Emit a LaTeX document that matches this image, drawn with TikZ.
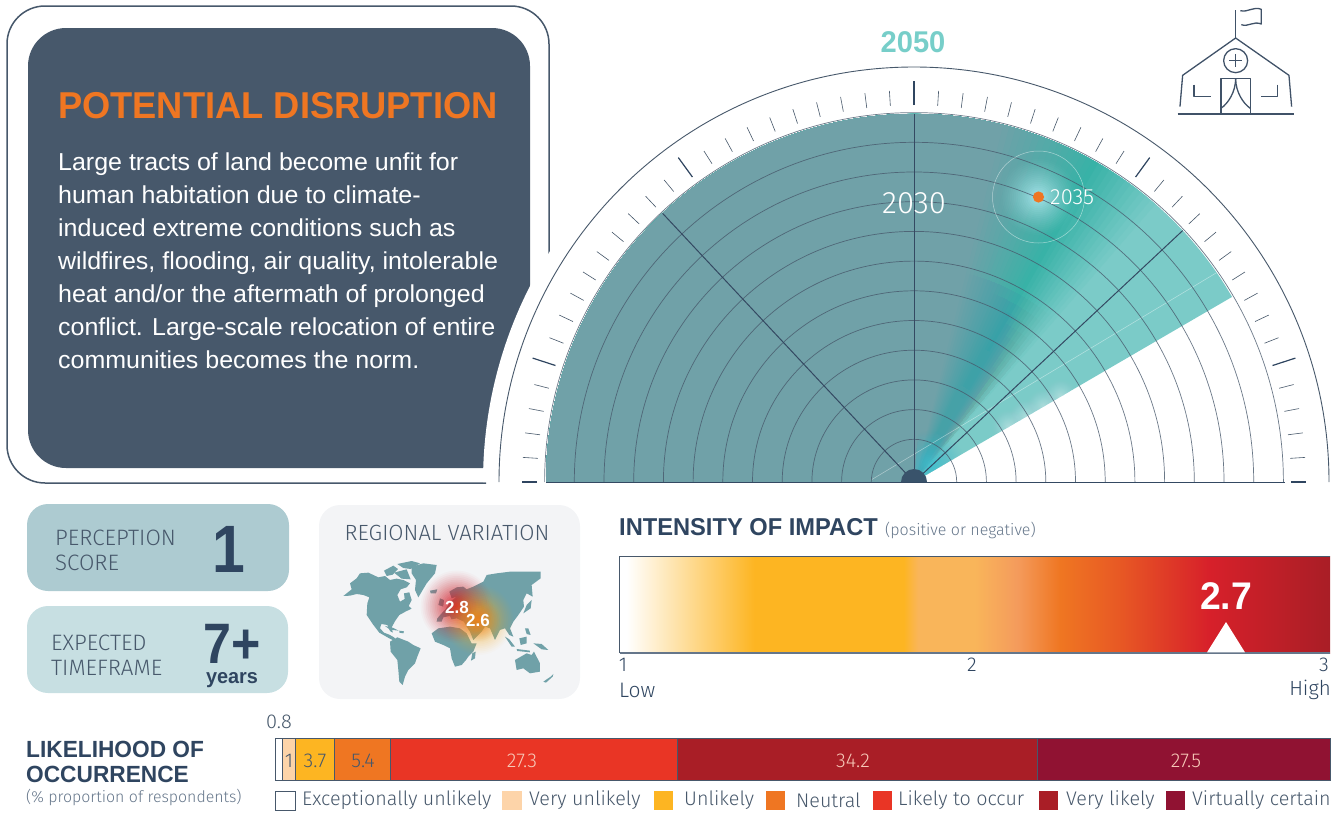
\documentclass[tikz,border=0pt]{standalone}
\usepackage{fontspec}
\setmainfont[FakeStretch=1.02]{Liberation Sans}
\newfontfamily\boldf[FakeStretch=0.97]{Liberation Sans Bold}
\newfontfamily\boldn[FakeStretch=0.88]{Liberation Sans Bold}
\newfontfamily\lightf{Fira Sans Light}
\usetikzlibrary{shadings}
\definecolor{slate}{HTML}{47586B}
\definecolor{navy}{HTML}{2F4560}
\definecolor{grayt}{HTML}{65768A}
\definecolor{orng}{HTML}{EF7622}
\definecolor{tealA}{HTML}{70A1A8}
\definecolor{tealB}{HTML}{38B2A7}
\definecolor{tealC}{HTML}{7BCBC8}
\definecolor{tealT}{HTML}{77CEC9}
\definecolor{boxa}{HTML}{ADCBD1}
\definecolor{boxb}{HTML}{C7DFE2}
\definecolor{boxc}{HTML}{F3F4F6}
\definecolor{pch}{HTML}{FDD4A9}
\definecolor{yel}{HTML}{FDB522}
\definecolor{redd}{HTML}{E93525}
\definecolor{dred}{HTML}{A91E26}
\definecolor{maro}{HTML}{901232}
\definecolor{lbl}{HTML}{F7C9B8}
\definecolor{heatA}{HTML}{F9B55A}
\definecolor{heatB}{HTML}{F49B5C}
\definecolor{heatC}{HTML}{E85A24}
\definecolor{heatD}{HTML}{D7202A}
\definecolor{cglow}{HTML}{3FC0D2}
\definecolor{dglow}{HTML}{A8E6EC}
\definecolor{eglow}{HTML}{DDF3F8}
\newcommand\szt[2]{\fontsize{#1}{#2}\selectfont}
% soft spot: stacked circles whose summed opacity eases from the rim to the centre
\newcommand\softspot[4]{%
 \foreach \gn in {1,...,20}{%
  \pgfmathsetmacro\grr{#2*(21-\gn)/20}%
  \pgfmathsetmacro\gop{1-(1-#4*(\gn/20)^1.2)/(1-#4*((\gn-1)/20)^1.2)}%
  \fill[#3,opacity=\gop] #1 circle (\grr);
 }}
\pgfdeclarehorizontalshading{heat}{100bp}{
 color(0bp)=(white);
 color(25.5bp)=(white);
 color(34.5bp)=(yel);
 color(45bp)=(yel);
 color(46bp)=(heatA);
 color(50bp)=(heatA);
 color(53bp)=(heatB);
 color(56bp)=(orng);
 color(60bp)=(heatC);
 color(66.5bp)=(heatD);
 color(75bp)=(dred);
 color(100bp)=(dred)}
\tikzset{
 lab/.style={inner sep=0pt,text=slate,font=\lightf\szt{19.7}{24}},
 hdr/.style={inner sep=0pt,text=navy,font=\boldf\szt{23.4}{25}},
 seg/.style={draw=slate,line width=.7pt},
 seglab/.style={inner sep=0pt,font=\lightf\szt{20}{24}},
 ring/.style={draw=slate,line width=.7pt,draw opacity=.8},
 spoke/.style={draw=navy!80!slate,line width=1pt},
 tick/.style={draw=slate,line width=.6pt},
 bigtick/.style={draw=navy,line width=1.2pt},
 icon/.style={draw=slate!70!navy,line width=1.3pt,line join=round},
 land/.style={fill=tealA,draw=none},
 card/.style={rounded corners=21pt,draw=none}
}
\begin{document}
\begin{tikzpicture}[x=1pt,y=-1pt]
\useasboundingbox (0,0) rectangle (1338,814);
% text panel
\draw[draw=slate,line width=1.5pt,rounded corners=38pt] (549,263) -- (549,6) -- (7,6) -- (7,483) -- (486,483);
\fill[slate,rounded corners=38pt] (28,28) rectangle (530,468);
\node[inner sep=0pt,anchor=base west,text=orng,font=\boldf\szt{37.4}{40}] (title) at (58,118) {POTENTIAL DISRUPTION};
\node[inner sep=0pt,anchor=north west,align=left,text=white,font=\szt{24.5}{33}] (body) at (58,152.5) {Large tracts of land become unfit for\\human habitation due to climate-\\induced extreme conditions such as\\wildfires, flooding, air quality, intolerable\\heat and/or the aftermath of prolonged\\conflict. Large-scale relocation of entire\\communities becomes the norm.};
% gauge
\begin{scope}[shift={(914,482)},y=1pt]
 \fill[white] (180:431) arc[start angle=180,end angle=0,radius=431] -- cycle;
 \fill[tealC] (0,0) -- (30.2:368) arc[start angle=30.2,end angle=180,radius=368] -- cycle;
 \foreach \a in {48,49,...,60}{
  \pgfmathsetmacro\p{(\a-48)/12*100}
  \fill[tealB!\p!tealC] (0,0) -- (\a:368) arc[start angle=\a,end angle=180,radius=368] -- cycle;
 }
 \foreach \a in {61,62,...,76}{
  \pgfmathsetmacro\p{(\a-60)/16*100}
  \fill[tealA!\p!tealB] (0,0) -- (\a:368) arc[start angle=\a,end angle=180,radius=368] -- cycle;
 }
 \foreach \a in {50,52,...,66}{
  \begin{scope}
   \clip (0,0) -- (\a:215) arc[start angle=\a,end angle=85,radius=215] -- cycle;
   \softspot{(0,0)}{215}{tealA}{.35}
  \end{scope}
 }
 % glows inside the sector
 \begin{scope}
  \clip (0,0) -- (30.2:368) arc[start angle=30.2,end angle=85,radius=368] -- cycle;
  \softspot{(46:24)}{34}{cglow}{.85}
  \foreach \r in {110,130,150,170}{
   \softspot{(30.2:\r)}{17}{eglow}{.55}
  }
 \end{scope}
 \draw[white,opacity=.45,line width=.5pt] (-43,2) -- (302,209);
 % dot glow
 \softspot{(124.5,285)}{38}{dglow}{.95}
 % rings
 \foreach \k in {0,...,11}{
  \pgfmathsetmacro\r{42.7+29.7*\k}
  \draw[ring] (\r,0) arc[start angle=0,end angle=180,radius=\r];
 }
 \draw[navy!80!slate,line width=1pt] (-368,0) -- (371,0);
 \foreach \a in {43.1,90,133.1}{
  \draw[spoke] (0,0) -- (\a:368);
 }
 \fill[navy!85!tealA] (-13,0) arc[start angle=180,end angle=0,radius=13] -- cycle;
 \draw[white,opacity=.5,line width=.5pt] (124.5,285) circle (46);
 \draw[slate,line width=.9pt] (415,0) arc[start angle=0,end angle=180,radius=415];
 \foreach \i in {0,...,50}{
  \pgfmathtruncatemacro\m{mod(\i,10)}
  \pgfmathsetmacro\ang{\i*3.6}
  \ifnum\m=5
   \draw[bigtick] (\ang:377) -- (\ang:401);
  \else
   \ifnum\m=0
    \ifnum\i=0 \draw[bigtick] (\ang:377) -- (\ang:392);
    \else\ifnum\i=50 \draw[bigtick] (\ang:377) -- (\ang:392);
    \else \draw[tick] (\ang:377) -- (\ang:392); \fi\fi
   \else
    \draw[tick] (\ang:377) -- (\ang:392);
   \fi
  \fi
 }
 \coordinate (dotc) at (124.5,285);
\end{scope}
\fill[orng] (dotc) circle (5.6);
\node[inner sep=0pt,anchor=west,text=white,font=\lightf\szt{22}{24}] (y2035) at (1050,197) {2035};
\node[inner sep=0pt,text=white,font=\lightf\szt{31}{34}] (y2030) at (914,203) {2030};
\node[inner sep=0pt,text=tealT,font=\boldf\szt{30}{32}] (y2050) at (913,42) {2050};
% icon
\begin{scope}[shift={(900,0)},x=.3333pt,y=-.3333pt,icon]
 \draw (833,342) -- (1181,342);
 \draw (840,320) -- (848,226) -- (1007,114) -- (1167,226) -- (1175,320);
 \draw (1007,114) -- (1007,30);
 \draw (1021,32) .. controls (1045,38) and (1060,18) .. (1084,28) -- (1084,72) .. controls (1060,62) and (1045,82) .. (1024,74);
 \draw (1007,182) circle (36);
 \draw (1007,162) -- (1007,202) (987,182) -- (1027,182);
 \draw (963,342) -- (963,236) -- (1051,236) -- (1051,342);
 \draw (1007,236) .. controls (1007,275) and (985,310) .. (963,325);
 \draw (1007,236) .. controls (1007,275) and (1029,310) .. (1051,325);
 \draw (882,254) -- (882,290) -- (932,290);
 \draw (1133,254) -- (1133,290) -- (1082,290);
\end{scope}
% score cards
\fill[boxa,card] (27,504) rectangle (289,591);
\fill[boxb,card] (27,606) rectangle (288,693);
\fill[boxc,card] (319,505) rectangle (580,699);
\node[lab,anchor=north west,align=left,font=\lightf\szt{22.3}{25}] (perc) at (55,530) {PERCEPTION\\SCORE};
\node[lab,anchor=north west,align=left,font=\lightf\szt{22.3}{25}] (exp) at (51,635) {EXPECTED\\TIMEFRAME};
\node[inner sep=0pt,anchor=base,text=navy,font=\boldn\szt{67}{68}] (one) at (229,572) {1};
\node[inner sep=0pt,anchor=base,text=navy,font=\boldn\szt{57}{58}] (seven) at (232,663) {7+};
\node[inner sep=0pt,anchor=base,text=navy,font=\boldf\szt{20.5}{23}] (yrs) at (232,683) {years};
\node[lab,font=\lightf\szt{22}{25}] (reg) at (447,533) {REGIONAL VARIATION};
% map
\begin{scope}[shift={(310,500)},x=.3333pt,y=-.3333pt]
 \fill[land] (100,288)--(125,268)--(120,250)--(140,235)--(150,220)--(175,218)--(205,232)--(225,228)--(240,240)--(260,236)--(280,240)--(300,250)--(290,262)--(272,268)--(262,285)--(270,305)--(284,297)--(282,280)--(298,277)--(305,300)--(296,318)--(305,326)--(288,334)--(268,345)--(256,362)--(246,380)--(248,398)--(240,393)--(232,375)--(214,372)--(210,385)--(222,398)--(238,404)--(252,412)--(262,424)--(256,424)--(236,414)--(208,398)--(188,372)--(170,345)--(172,310)--(178,292)--(160,285)--(140,282)--(120,287)--cycle;
 \fill[land] (222,212)--(250,197)--(264,207)--(248,224)--(230,228)--cycle;
 \fill[land] (262,192)--(305,183)--(330,190)--(302,207)--(280,204)--cycle;
 \fill[land] (252,218)--(290,208)--(302,238)--(275,236)--cycle;
 \fill[land] (305,200)--(340,190)--(380,195)--(375,220)--(350,250)--(325,292)--(315,270)--(318,240)--(305,220)--cycle;
 \fill[land] (225,378)--(250,384)--(266,392)--(240,389)--cycle;
 \fill[land] (268,392)--(282,394)--(280,400)--(268,398)--cycle;
 \fill[land] (240,425)--(262,412)--(295,425)--(310,435)--(332,445)--(322,470)--(315,490)--(295,510)--(285,530)--(278,555)--(268,545)--(265,510)--(262,480)--(242,455)--cycle;
 \fill[land] (365,400)--(385,385)--(420,380)--(450,385)--(470,400)--(485,430)--(500,430)--(490,455)--(475,470)--(468,480)--(455,495)--(435,500)--(425,475)--(420,445)--(400,435)--(375,425)--cycle;
 \fill[land] (487,460)--(497,455)--(495,475)--(483,482)--cycle;
 \fill[land] (382,355)--(395,340)--(405,330)--(418,310)--(428,300)--(440,290)--(425,295)--(418,275)--(440,262)--(460,260)--(470,268)--(490,260)--(520,245)--(530,225)--(560,220)--(600,215)--(640,215)--(692,215)--(692,235)--(665,255)--(668,290)--(650,280)--(640,300)--(642,320)--(625,345)--(610,365)--(600,385)--(610,410)--(598,405)--(585,385)--(570,390)--(555,420)--(540,385)--(525,380)--(515,395)--(490,420)--(480,395)--(470,380)--(462,365)--(440,355)--(425,358)--(420,348)--(400,352)--(395,365)--(380,365)--cycle;
 \fill[land] (650,315)--(665,300)--(662,325)--(640,340)--cycle;
 \fill[land] (390,295)--(402,300)--(400,320)--(385,315)--cycle;
 \fill[land] (360,272)--(382,268)--(378,280)--(362,280)--cycle;
 \fill[land] (585,410)--(598,418)--(615,440)--(605,440)--cycle;
 \fill[land] (628,415)--(650,410)--(650,430)--(632,435)--cycle;
 \fill[land] (620,447)--(660,452)--(660,457)--(622,453)--cycle;
 \fill[land] (645,385)--(655,385)--(662,405)--(650,402)--cycle;
 \fill[land] (670,430)--(695,432)--(715,450)--(695,448)--cycle;
 \fill[land] (615,480)--(650,460)--(665,465)--(672,455)--(690,490)--(690,515)--(660,520)--(640,505)--(620,510)--cycle;
 \fill[land] (700,545)--(722,530)--(730,522)--(728,530)--(708,548)--cycle;
 \coordinate (gr) at (440,320);
 \coordinate (go) at (505,360);
\end{scope}
\softspot{(gr)}{36}{heatD}{.95}
\softspot{(go)}{35}{yel}{.85}
\softspot{(go)}{22}{orng}{.6}
\node[inner sep=0pt,text=white,font=\boldf\szt{17.5}{20}] (r1) at (457,607) {2.8};
\node[inner sep=0pt,text=white,font=\boldf\szt{17.5}{20}] (r2) at (478,620) {2.6};
% intensity
\node[inner sep=0pt,anchor=base west,text=navy,font=\boldf\szt{24.4}{25}] (imp) at (619,535) {INTENSITY OF IMPACT};
\node[inner sep=0pt,anchor=base west,text=grayt,font=\lightf\szt{16}{20}] (impb) at (885,535) {(positive or negative)};
\shade[shading=heat] (619.5,556) rectangle (1330,653);
\draw[slate,line width=.9pt] (619.5,653) -- (619.5,556) -- (1330,556);
\draw[grayt,line width=1.2pt] (619.5,653) -- (1330,653);
\node[inner sep=0pt,text=white,font=\boldf\szt{38.5}{39}] (val) at (1226,596) {2.7};
\fill[white] (1226,622) -- (1245,652.4) -- (1207,652.4) -- cycle;
\node[lab,text=navy,font=\lightf\szt{20}{24}] (t1) at (623,665) {1};
\node[lab,text=navy,font=\lightf\szt{20}{24}] (t2) at (972,665) {2};
\node[lab,text=navy,font=\lightf\szt{20}{24}] (t3) at (1324,665) {3};
\node[lab,anchor=west,text=navy,font=\lightf\szt{21}{24}] (low) at (619,690) {Low};
\node[lab,anchor=east,text=navy,font=\lightf\szt{20.5}{24}] (high) at (1331,690) {High};
% likelihood
\node[hdr,anchor=north west,align=left] (lk) at (26,741) {LIKELIHOOD OF\\OCCURRENCE};
\node[inner sep=0pt,anchor=west,text=grayt,font=\lightf\szt{15.9}{20}] (lkb) at (26,797) {(\% proportion of respondents)};
\filldraw[seg,fill=white] (275,738) rectangle (282.7,780);
\filldraw[seg,fill=pch] (282.7,738) rectangle (295.5,780);
\filldraw[seg,fill=yel] (295.5,738) rectangle (334,780);
\filldraw[seg,fill=orng] (334,738) rectangle (390,780);
\filldraw[seg,fill=redd] (390,738) rectangle (677.5,780);
\filldraw[seg,fill=dred] (677.5,738) rectangle (1037,780);
\filldraw[seg,fill=maro] (1037,738) rectangle (1330,780);
\node[seglab,text=slate] (s0) at (279,722) {0.8};
\node[seglab,text=slate] (s1) at (289,761) {1};
\node[seglab,text=slate] (s2) at (315,761) {3.7};
\node[seglab,text=slate] (s3) at (363,761) {5.4};
\node[seglab,text=lbl] (s4) at (522,761) {27.3};
\node[seglab,text=lbl] (s5) at (853,761) {34.2};
\node[seglab,text=lbl] (s6) at (1186,761) {27.5};
\filldraw[seg,fill=white,line width=1pt] (275.5,791.5) rectangle (295,810);
\fill[pch] (502,791) rectangle (522,810);
\fill[yel] (654,791) rectangle (673,810);
\fill[orng] (766,791) rectangle (785,810);
\fill[redd] (873,791) rectangle (892,810);
\fill[dred] (1039,791) rectangle (1058,810);
\fill[maro] (1166,791) rectangle (1185,810);
\node[lab,anchor=west] (k0) at (302,800) {Exceptionally unlikely};
\node[lab,anchor=west] (k1) at (529,800) {Very unlikely};
\node[lab,anchor=west] (k2) at (684,800) {Unlikely};
\node[lab,anchor=west] (k3) at (796,800) {Neutral};
\node[lab,anchor=west] (k4) at (898,800) {Likely to occur};
\node[lab,anchor=west] (k5) at (1066,800) {Very likely};
\node[lab,anchor=west] (k6) at (1192,800) {Virtually certain};
\end{tikzpicture}
\end{document}
